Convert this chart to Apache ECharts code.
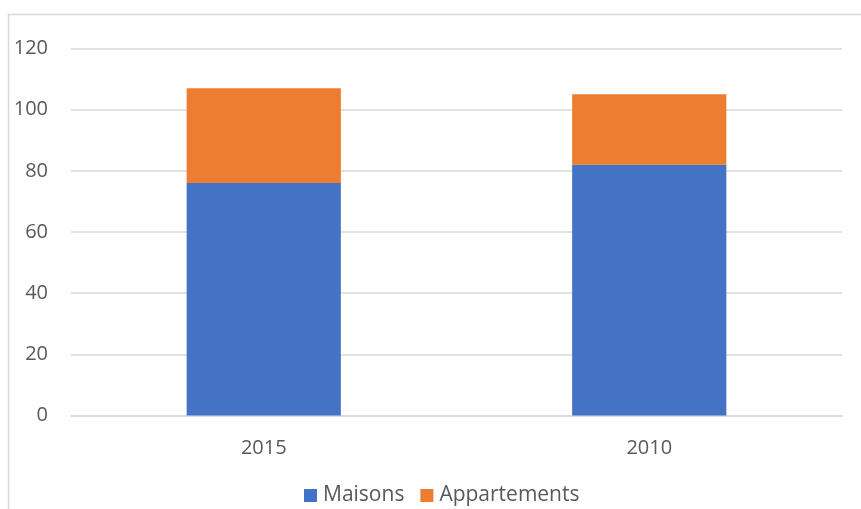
<!DOCTYPE html>
<html><head><meta charset="utf-8">
<script src="https://cdn.jsdelivr.net/npm/echarts@6/dist/echarts.min.js"></script>
<style>html,body{margin:0;padding:0;background:#fff}#c{width:861px;height:509px}</style>
</head><body><div id="c"></div>
<script>
const categories = ['2015', '2010'];
const maisons = [76, 82];
const appartements = [31, 23];
const seriesNames = ['Maisons', 'Appartements'];
const yTicks = [0, 20, 40, 60, 80, 100, 120];

const font = '"Open Sans", sans-serif';
const chart = echarts.init(document.getElementById('c'));
chart.setOption({
  animation: false,
  graphic: [{type:'rect', shape:{x:8.5, y:14.5, width:900, height:600}, style:{fill:'none', stroke:'#d9d9d9', lineWidth:1.5}, silent:true}],
  grid: {left:71, right:19, top:48.5, bottom:93.5, containLabel:false},
  legend: {top:480, left:299, itemWidth:13, itemHeight:13, itemGap:16, icon:'rect',
    textStyle:{color:'#595959', fontFamily:font, fontSize:21, padding:[0,0,0,1]}, data: seriesNames},
  xAxis: {type:'category', data:categories, axisTick:{show:false},
    axisLine:{lineStyle:{color:'#d9d9d9', width:1.5}},
    axisLabel:{color:'#595959', fontFamily:font, fontSize:20, margin:23}},
  yAxis: {type:'value', min:yTicks[0], max:yTicks[yTicks.length-1], interval:20,
    axisLine:{show:false}, axisTick:{show:false},
    splitLine:{lineStyle:{color:'#d9d9d9', width:1.5}},
    axisLabel:{color:'#595959', fontFamily:font, fontSize:20, margin:23}},
  series: [
    {name:seriesNames[0], type:'bar', stack:'a', data:maisons, barWidth:'40%', itemStyle:{color:'#4472c4'}},
    {name:seriesNames[1], type:'bar', stack:'a', data:appartements, barWidth:'40%', itemStyle:{color:'#ed7d31'}}
  ]
});
</script></body></html>
